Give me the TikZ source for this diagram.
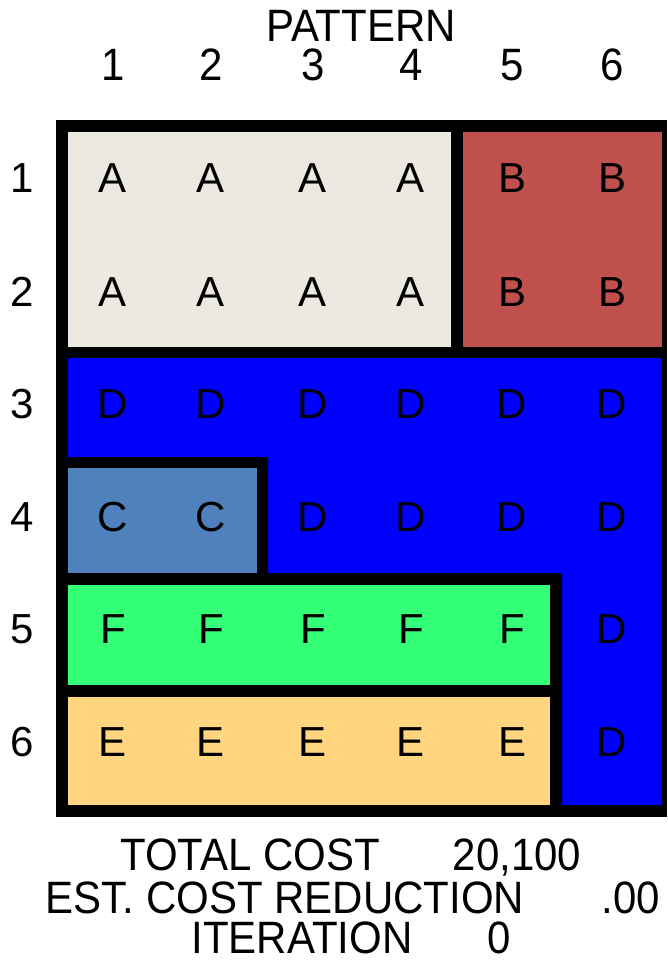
\documentclass[tikz,border=0pt]{standalone}
\usepackage{fontspec}
\usepackage{graphicx}
\setmainfont{Liberation Sans}
\definecolor{cA}{HTML}{ECEAE0}
\definecolor{cB}{HTML}{C0504D}
\definecolor{cC}{HTML}{4F81BD}
\definecolor{cD}{HTML}{0000FF}
\definecolor{cE}{HTML}{FFD580}
\definecolor{cF}{HTML}{33FF77}
\tikzset{
  cell/.style={anchor=base,inner sep=0pt,font=\fontsize{42}{42}\selectfont},
  lab/.style={anchor=base,inner sep=0pt,font=\fontsize{42}{42}\selectfont},
}
\newcommand{\tall}[1]{\scalebox{1}[1.08]{#1}}
\begin{document}
\begin{tikzpicture}[x=1pt,y=-1pt]
\useasboundingbox (0,0) rectangle (667,960);
% frame and regions
\fill[black] (56,120) rectangle (667,817);
\fill[cA] (68,132) rectangle (451,347);
\fill[cB] (463,132) rectangle (662,347);
\fill[cD] (68,358) rectangle (662,805);
\fill[black,rounded corners=2pt] (68,457) -- (268,457) -- (268,585) -- (68,585) -- cycle;
\fill[black,rounded corners=2pt] (68,573) -- (562,573) -- (562,805) -- (68,805) -- cycle;
\fill[cC] (68,468) rectangle (257,573);
\fill[cF] (68,585) rectangle (550,685);
\fill[cE] (68,697) rectangle (550,805);
% header
\node[lab] (pattern) at (361,42) {\tall{PATTERN}};
\foreach \c/\x in {1/113,2/211,3/313,4/411,5/512,6/612}{
  \node[lab] (col\c) at (\x,81) {\tall{\c}};
}
\foreach \r/\y in {1/178,2/291,3/403,4/516,5/628,6/741}{
  \node[cell] (row\r) at (22,\y+15) {\r};
}
% cells
\foreach \r/\y/\letters in {
  1/178/{A,A,A,A,B,B},
  2/291/{A,A,A,A,B,B},
  3/403/{D,D,D,D,D,D},
  4/516/{C,C,D,D,D,D},
  5/628/{F,F,F,F,F,D},
  6/741/{E,E,E,E,E,D}}{
  \foreach \L [count=\c] in \letters {
    \pgfmathsetmacro{\xx}{{113,211,313,411,512,612}[\c-1]}
    \node[cell] (cell\r\c) at (\xx,\y+15) {\L};
  }
}
% footer
\node[lab] (tc) at (250,870) {\tall{TOTAL COST}};
\node[lab] (tcv) at (517,870) {\tall{20,100}};
\node[lab] (ecr) at (285,913) {\tall{EST. COST REDUCTION}};
\node[lab] (ecrv) at (631,913) {\tall{.00}};
\node[lab] (it) at (302,953) {\tall{ITERATION}};
\node[lab] (itv) at (499,953) {\tall{0}};
\end{tikzpicture}
\end{document}
